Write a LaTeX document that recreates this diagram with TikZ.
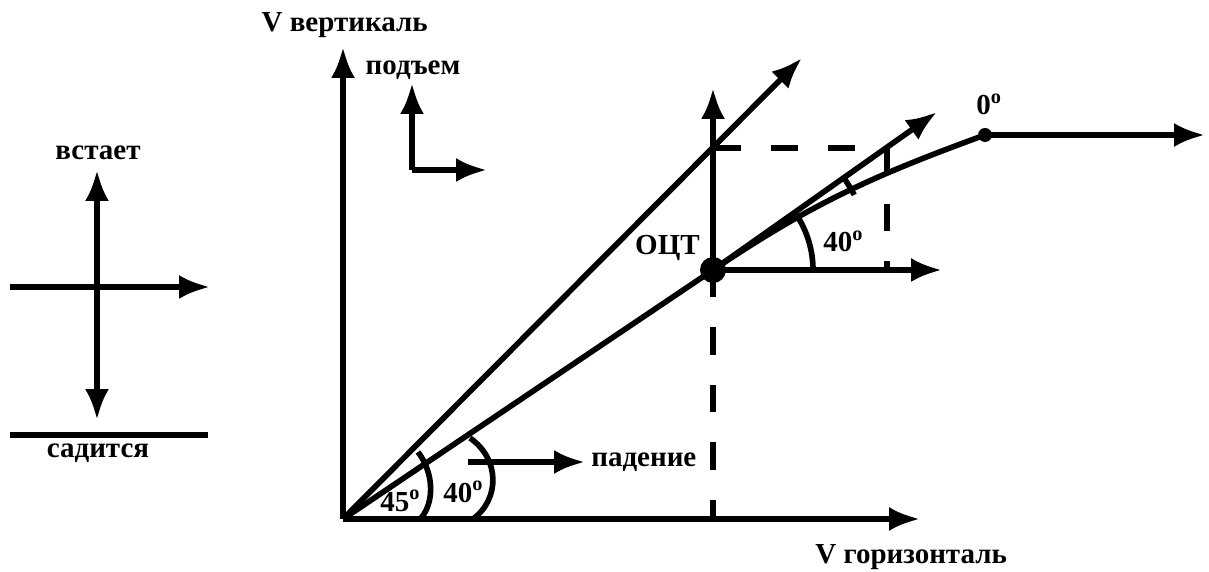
\documentclass[tikz,border=0pt]{standalone}
\usepackage{fontspec}
\setmainfont{Liberation Serif}
\usepackage{xcolor}
\usetikzlibrary{arrows.meta}
\usetikzlibrary{math}
\tikzset{
  plain/.style={line width=3.2pt},
  vec/.style={line width=3.2pt, -{Latex[length=0.62cm,width=0.48cm]}},
  dvec/.style={line width=3.2pt, {Latex[length=0.62cm,width=0.48cm]}-{Latex[length=0.62cm,width=0.48cm]}},
  dashline/.style={line width=3.2pt, dash pattern=on 0.55cm off 0.6cm},
  lbl/.style={font=\bfseries\fontsize{16.5}{19}\selectfont, inner sep=0pt}
}

\begin{document}
\begin{tikzpicture}[x=0.02cm,y=0.02cm]
\tikzmath{
\rq=100;
\ro=13;
\rz=7;
}
\useasboundingbox (0,0) rectangle (1209,571);

% left sketch
\coordinate (cu) at (97,401);
\coordinate (cd) at (97,151);
\coordinate (cl) at (10,284);
\coordinate (cr) at (210,284);
\coordinate (gl) at (10,136);
\coordinate (gr) at (208,136);
\draw[dvec] (cd) -- (cu);
\draw[vec] (cl) -- (cr);
\draw[plain] (gl) -- (gr);
\node[lbl, anchor=base] (up) at (98,411) {встает};
\node[lbl, anchor=base] (down) at (98,113) {садится};

% main chart
\coordinate (O) at (343,52);
\coordinate (Q) at (713,301);
\coordinate (Z) at (985,436);
\coordinate (K) at (713,423);
\coordinate (D) at (887,423);
\coordinate (Dlow) at (887,301);
\coordinate (Qbase) at (713,52);
\coordinate (vtip) at (343,524);
\coordinate (htip) at (920,52);
\coordinate (t45) at (802,513);
\coordinate (qup) at (713,483);
\coordinate (qright) at (942,301);
\coordinate (qtan) at (937,459);
\coordinate (zright) at (1205,436);

\draw[vec] (O) -- (vtip);
\draw[vec] (O) -- (htip);
\draw[vec] (O) -- (t45);
\draw[plain] (O) -- (Q);
\draw[vec] (Q) -- (qup);
\draw[vec] (Q) -- (qright);
\draw[vec] (Q) -- (qtan);
\draw[plain] (Q) to[out=34,in=200] (Z);
\draw[vec] (Z) -- (zright);
\draw[dashline] (K) -- (D) -- (Dlow);
\draw[dashline] (Q) -- (Qbase);
\fill (Q) circle(\ro);
\fill (Z) circle(\rz);

\draw[plain] ([shift={(0:\rq)}]Q) arc[start angle=0,end angle=34,radius=\rq];
\draw[plain] ([shift={(28:160)}]Q) arc[start angle=28,end angle=36,radius=160];
\draw[plain] (420,52) .. controls (433,65) and (436,95) .. (418,119);
\draw[plain] (473,52) .. controls (500,72) and (500,112) .. (470,133);

% small arrows
\coordinate (pc) at (412,401);
\coordinate (pu) at (412,488);
\coordinate (pr) at (487,401);
\draw[vec] (pc) -- (pu);
\draw[vec] (pc) -- (pr);
\coordinate (fs) at (468,109);
\coordinate (fe) at (585,109);
\draw[vec] (fs) -- (fe);

% labels
\node[lbl, anchor=base east] (vv) at (428,539) {V вертикаль};
\node[lbl, anchor=base west] (vh) at (815,8) {V горизонталь};
\node[lbl, anchor=base] (rise) at (413,496) {подъем};
\node[lbl, anchor=base west] (fall) at (591,104) {падение};
\node[lbl, anchor=base east] (oct) at (700,316) {ОЦТ};
\node[lbl, anchor=base west] (aq) at (823,319) {40\textsuperscript{o}};
\node[lbl, anchor=base west] (az) at (976,456) {0\textsuperscript{o}};
\node[lbl, anchor=base west] (a40) at (443,69) {40\textsuperscript{o}};
\node[lbl, anchor=base west] (a45) at (380,60) {45\textsuperscript{o}};
\end{tikzpicture}
\end{document}
